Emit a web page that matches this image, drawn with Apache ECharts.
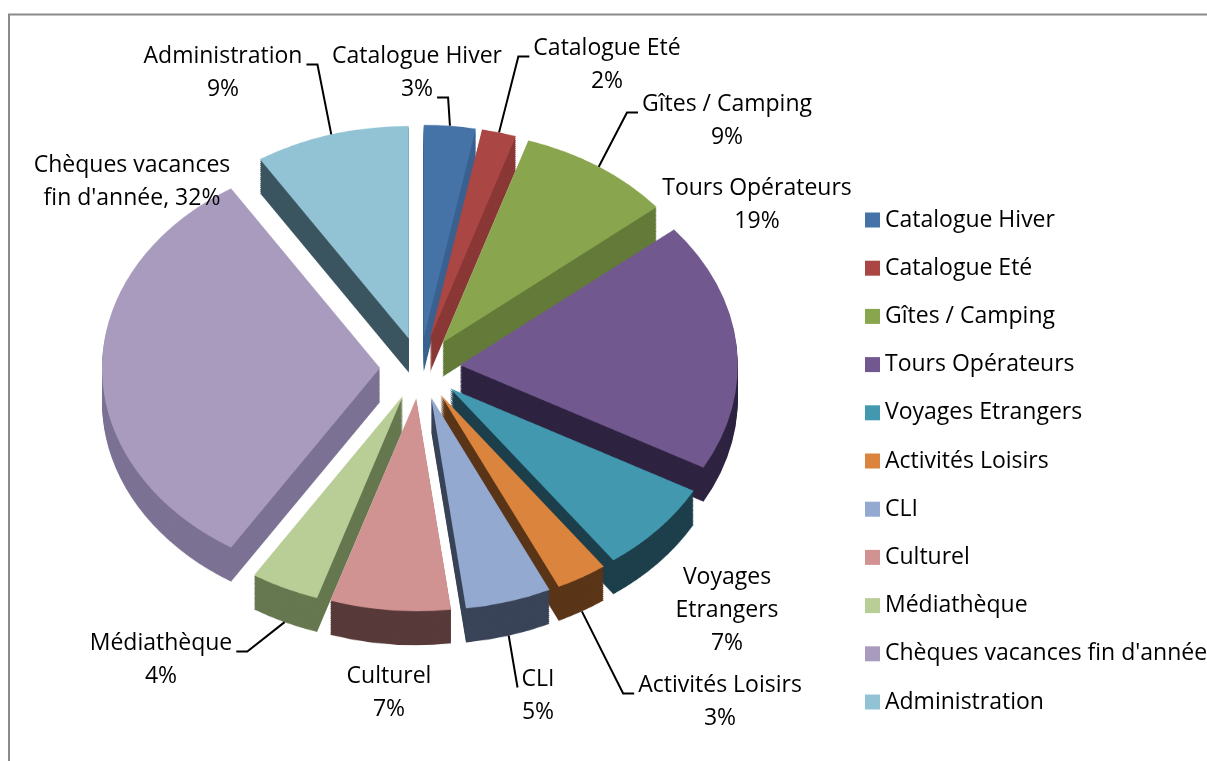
<!DOCTYPE html>
<html><head><meta charset="utf-8">
<script src="https://cdn.jsdelivr.net/npm/echarts@6/dist/echarts.min.js"></script>
<style>
html,body{margin:0;padding:0;background:#fff;overflow:hidden;width:1207px;height:761px}
#wrap{position:relative;width:1207px;height:761px;overflow:hidden}
#pie{position:absolute;left:0;top:0;width:1207px;transform-origin:0 0}
#over{position:absolute;left:0;top:0;width:1207px;height:761px}
</style>
</head><body><div id="wrap"><div id="pie"></div><div id="over"></div></div>
<script>
// ---- data ----
const categories = ['Catalogue Hiver','Catalogue Eté','Gîtes / Camping','Tours Opérateurs','Voyages Etrangers','Activités Loisirs','CLI','Culturel','Médiathèque',"Chèques vacances fin d'année",'Administration'];
const values = [3,2,9,19,7,3,5,7,4,32,9];
const labelNames = ['Catalogue Hiver','Catalogue Eté','Gîtes / Camping','Tours Opérateurs','Voyages\nEtrangers','Activités Loisirs','CLI','Culturel','Médiathèque',"Chèques vacances\nfin d'année,",'Administration'];
const labelSeparators = ['\n','\n','\n','\n','\n','\n','\n','\n','\n',' ','\n'];

// ---- styles / layout ----
const topColors = ['#4572A7','#AA4643','#89A54E','#71588F','#4198AF','#DB843D','#93A9CF','#D19392','#B9CD96','#A99BBD','#92C3D4'];
const sideColors = ['#3a6290','#8a3836','#637a38','#2e2340','#1c3f4b','#5a3518','#3a4458','#583a3a','#66784f','#7c7294','#3b5560'];
const LABEL_POS = [[417,73],[607,65],[727,121],[757,205],[727,610],[720,702],[538,696],[389,693],[161,660],[132,182],[223,73]];
const LEADER = {0:{line:1,side:'right'},1:{line:0,side:'left'},2:{line:0,side:'left'},5:{line:0,side:'left'},6:{line:0,side:'left',hook:0},8:{line:0,side:'right'},10:{line:0,side:'right'}};
const FONT_FAMILY = "'Open Sans', 'Noto Sans', sans-serif";
const FONT_SIZE = 23, LINE_H = 33;
const S = 0.765;           // vertical squash of the pie (3-D tilt)
const CX = 420, CY = 368, R = 278, OFFSET = 40, DEPTH = 34, STEP = 2;

// ---- pie (tilted) ----
const pieDiv = document.getElementById('pie');
pieDiv.style.height = Math.ceil(761 / S) + 'px';
pieDiv.style.transform = 'scaleY(' + S + ')';
const pieChart = echarts.init(pieDiv, null, {renderer:'canvas'});

function makeData(colors) {
  return categories.map((name, i) => ({ name, value: values[i], selected: true, itemStyle: { color: colors[i] } }));
}
const pieSeries = [{
  type: 'pie', name: 'top', z: 3, silent: true,
  center: [CX, CY / S], radius: R, startAngle: 90, clockwise: true,
  selectedMode: 'multiple', selectedOffset: OFFSET, avoidLabelOverlap: false,
  emphasis: { disabled: true }, label: { show: false }, labelLine: { show: false },
  data: makeData(topColors)
}];
for (let k = DEPTH; k >= STEP; k -= STEP) {
  pieSeries.push({
    type: 'pie', name: 'side' + k, z: 2, silent: true,
    center: [CX, (CY + k) / S], radius: R, startAngle: 90, clockwise: true,
    selectedMode: 'multiple', selectedOffset: OFFSET, avoidLabelOverlap: false,
    emphasis: { disabled: true }, label: { show: false }, labelLine: { show: false },
    data: makeData(sideColors)
  });
}
pieChart.setOption({ animation: false, backgroundColor: '#fff', series: pieSeries });

// ---- labels, leaders, legend, frame ----
const overChart = echarts.init(document.getElementById('over'), null, {renderer:'canvas'});
const measure = document.createElement('canvas').getContext('2d');
measure.font = FONT_SIZE + "px 'Open Sans'";

const total = values.reduce((a, b) => a + b, 0);
let cum = 0;
const mids = values.map(v => { const m = (cum + v / 2) / total * 2 * Math.PI; cum += v; return m; });

const graphics = [{ type: 'rect', shape: { x: 9, y: 14.5, width: 1400, height: 900 }, style: { fill: 'none', stroke: '#8a8a8a', lineWidth: 2 }, silent: true }];
categories.forEach((c, i) => {
  const text = labelNames[i] + labelSeparators[i] + values[i] + '%';
  const [lx, ly] = LABEL_POS[i];
  graphics.push({ type: 'text', silent: true, z: 10,
    style: { text, x: lx, y: ly, align: 'center', verticalAlign: 'middle', fontFamily: FONT_FAMILY, fontSize: FONT_SIZE, lineHeight: LINE_H, fill: '#000' } });
  const ld = LEADER[i];
  if (ld) {
    const lines = text.split('\n');
    const w = measure.measureText(lines[ld.line]).width;
    const top = ly - lines.length * LINE_H / 2;
    const ay = top + LINE_H * (ld.line + 0.5) + 8;
    const hook = ld.hook == null ? 11 : ld.hook;
    const m = mids[i];
    const ex = CX + (R + OFFSET) * Math.sin(m);
    const ey = CY - (R + OFFSET) * Math.cos(m) * S + (Math.cos(m) < 0 ? DEPTH : 0);
    let attach, elbow;
    if (ld.side === 'right') { attach = lx + w / 2 + 4; elbow = attach + hook; }
    else { attach = lx - w / 2 - 4; elbow = attach - hook; }
    graphics.push({ type: 'polyline', silent: true, z: 9,
      shape: { points: [[ex, ey], [elbow, ay], [attach, ay]] },
      style: { stroke: '#000', lineWidth: 2, fill: 'none' } });
  }
});

overChart.setOption({
  animation: false,
  backgroundColor: 'transparent',
  graphic: graphics,
  legend: {
    orient: 'vertical', left: 860, top: 203, itemWidth: 15, itemHeight: 15, itemGap: 24.2,
    icon: 'rect', selectedMode: false, data: categories,
    textStyle: { fontFamily: FONT_FAMILY, fontSize: FONT_SIZE, lineHeight: 24, color: '#000' }
  },
  series: [{ type: 'pie', name: 'legend', radius: 0, center: [CX, CY], silent: true,
    label: { show: false }, labelLine: { show: false }, data: makeData(topColors).map(d => ({ name: d.name, value: d.value, itemStyle: d.itemStyle })) }]
});
</script></body></html>
